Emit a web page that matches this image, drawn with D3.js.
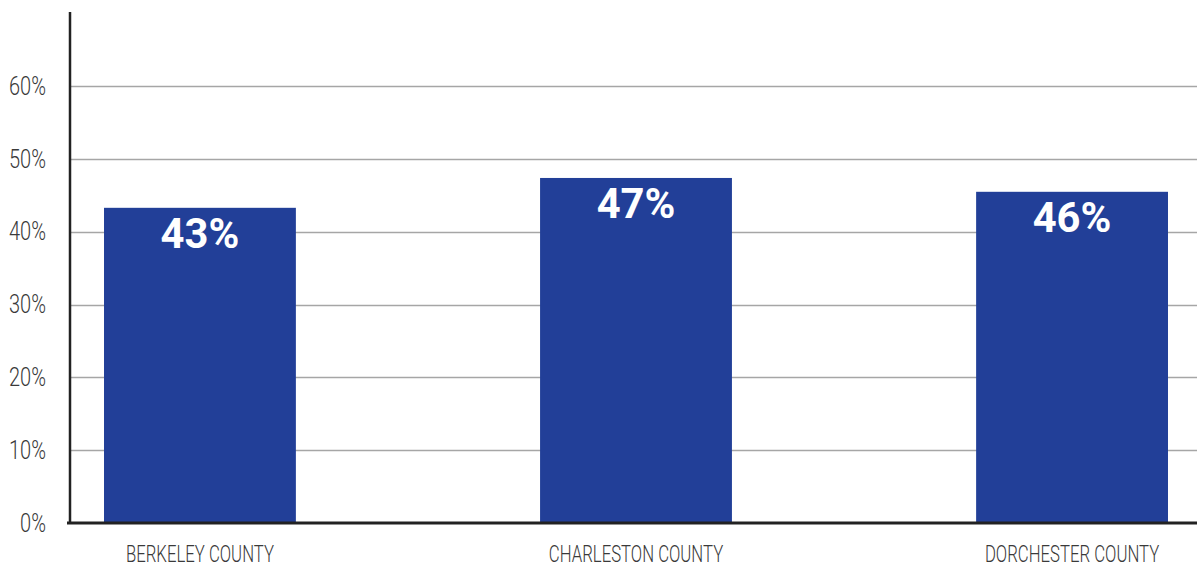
<!DOCTYPE html>
<html>
<head>
<meta charset="utf-8">
<script src="https://cdn.jsdelivr.net/npm/d3@7"></script>
<style>
  html, body { margin: 0; padding: 0; background: #fff; }
  svg { display: block; }
</style>
</head>
<body>
<svg id="chart" width="1197" height="567"></svg>
<script>
// Share of residents, by county
const counties = ["BERKELEY COUNTY", "CHARLESTON COUNTY", "DORCHESTER COUNTY"];
const shares = [43.3, 47.4, 45.5];
const tickValues = [0, 10, 20, 30, 40, 50, 60];

const W = 1197, H = 567;
const plotLeft = 70, baseline = 523, plotTop = 12;

const svg = d3.select("#chart");

const y = d3.scaleLinear().domain([0, 70.2]).range([baseline, plotTop]);
const x = d3.scaleBand()
  .domain(counties)
  .range([plotLeft, 1202])
  .paddingInner(0.56)
  .paddingOuter(0.078);

// Horizontal gridlines
svg.append("g")
  .selectAll("line")
  .data(tickValues.filter(d => d > 0))
  .join("line")
  .attr("x1", plotLeft)
  .attr("x2", W)
  .attr("y1", d => Math.round(y(d)) + 0.5)
  .attr("y2", d => Math.round(y(d)) + 0.5)
  .attr("stroke", "#a6a6a6")
  .attr("stroke-width", 1.3);

// Bars
svg.append("g")
  .selectAll("rect")
  .data(counties)
  .join("rect")
  .attr("x", d => x(d))
  .attr("width", x.bandwidth())
  .attr("y", (d, i) => y(shares[i]))
  .attr("height", (d, i) => baseline - y(shares[i]))
  .attr("fill", "#223f98");

// Value labels inside the bars
svg.append("g")
  .selectAll("text")
  .data(counties)
  .join("text")
  .attr("x", d => x(d) + x.bandwidth() / 2)
  .attr("y", (d, i) => y(shares[i]) + 40)
  .attr("text-anchor", "middle")
  .attr("fill", "#fff")
  .style("font-family", "Roboto, 'Liberation Sans', sans-serif")
  .style("font-weight", 700)
  .style("font-size", "43px")
  .text((d, i) => Math.round(shares[i]) + "%")
  .each(function () {
    const w = this.getComputedTextLength();
    d3.select(this).attr("textLength", w * 0.97).attr("lengthAdjust", "spacingAndGlyphs");
  });

// Y axis (tick labels only; line drawn separately)
const yAxis = d3.axisLeft(y)
  .tickValues(tickValues)
  .tickFormat(d => d + "%")
  .tickSize(0)
  .tickPadding(24);

const yg = svg.append("g")
  .attr("transform", `translate(${plotLeft},0)`)
  .call(yAxis);
yg.select(".domain").remove();
yg.selectAll("text")
  .attr("fill", "#3a3a3a")
  .style("font-family", "Roboto, 'Liberation Sans', sans-serif")
  .style("font-weight", 300)
  .style("font-size", "25px")
  .each(function () {
    const w = this.getComputedTextLength();
    d3.select(this).attr("textLength", w * 0.8).attr("lengthAdjust", "spacingAndGlyphs");
  });

// X axis category labels
const xAxis = d3.axisBottom(x).tickSize(0).tickPadding(23);
const xg = svg.append("g")
  .attr("transform", `translate(0,${baseline})`)
  .call(xAxis);
xg.select(".domain").remove();
const xLabels = xg.selectAll("text")
  .attr("fill", "#3a3a3a")
  .style("font-family", "Roboto, 'Liberation Sans', sans-serif")
  .style("font-weight", 300)
  .style("font-size", "23px");
const squeeze = 148 / xLabels.node().getComputedTextLength();
xLabels.each(function () {
  const w = this.getComputedTextLength();
  d3.select(this).attr("textLength", w * squeeze).attr("lengthAdjust", "spacingAndGlyphs");
});

// Axis lines
svg.append("line")
  .attr("x1", plotLeft).attr("x2", plotLeft)
  .attr("y1", plotTop).attr("y2", baseline + 1)
  .attr("stroke", "#222").attr("stroke-width", 2.5);
svg.append("line")
  .attr("x1", plotLeft - 3).attr("x2", W)
  .attr("y1", baseline).attr("y2", baseline)
  .attr("stroke", "#222").attr("stroke-width", 3);
</script>
</body>
</html>
